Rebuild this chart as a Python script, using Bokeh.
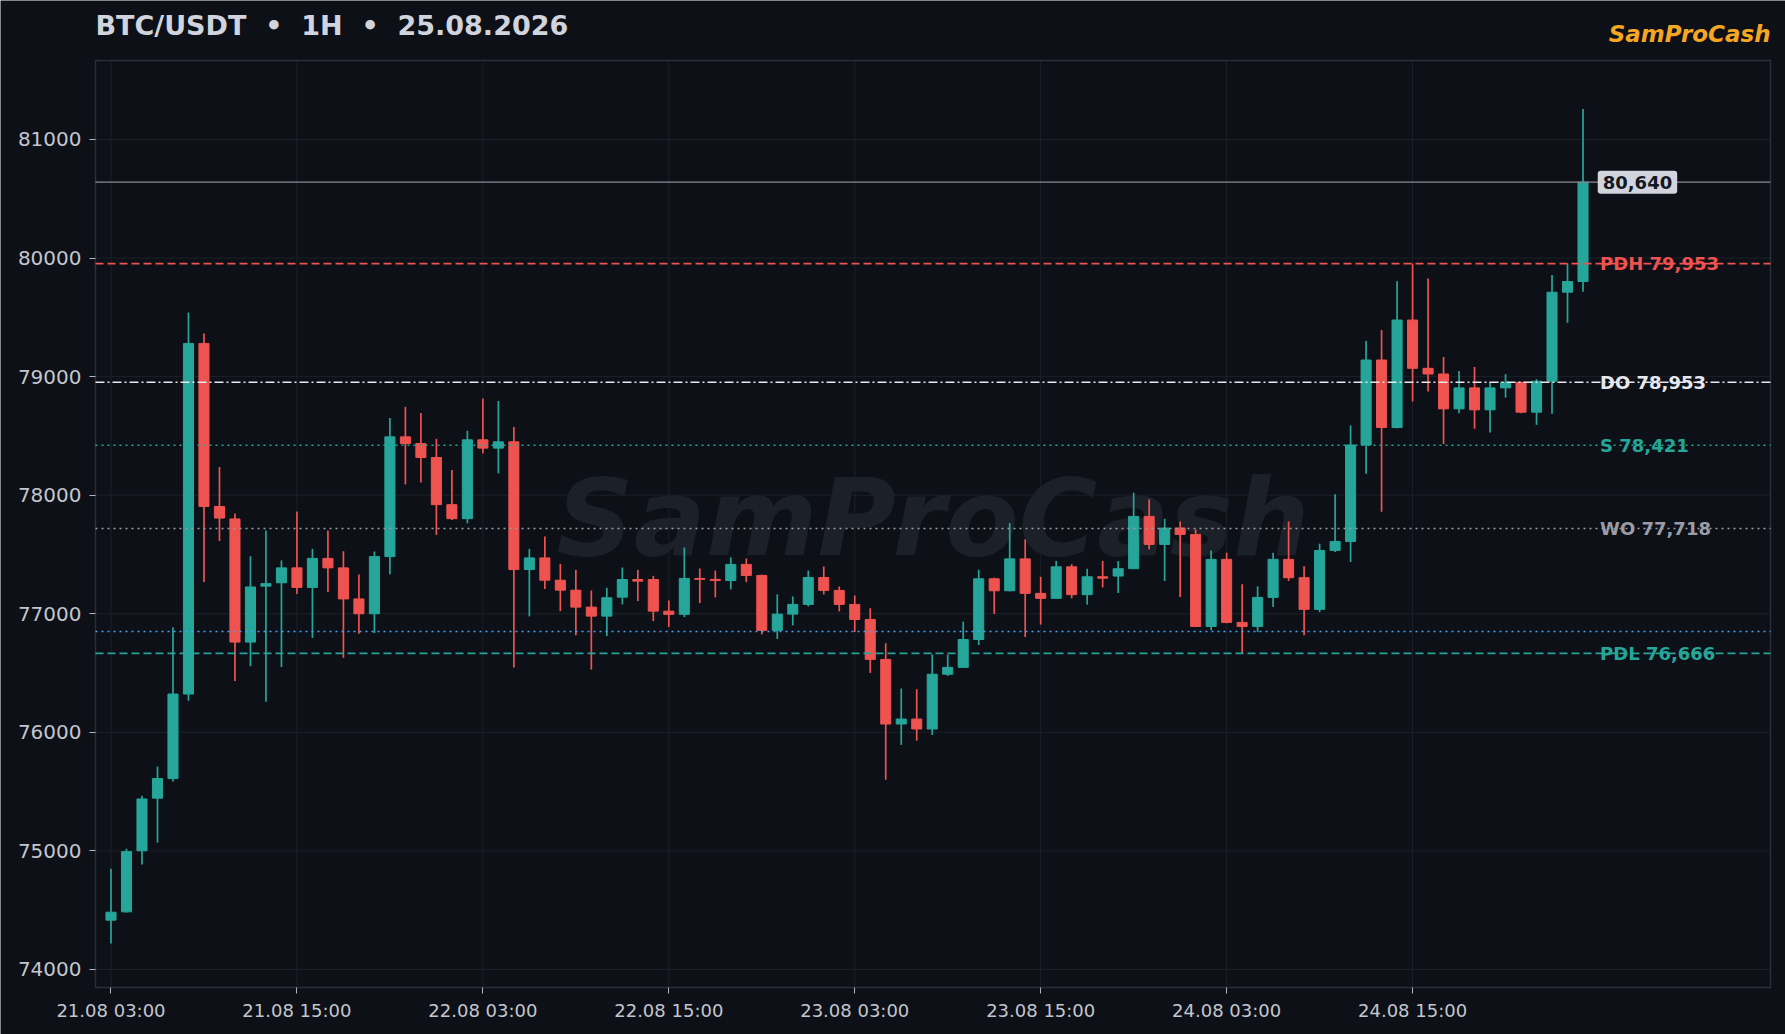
from bokeh.plotting import figure
from bokeh.models import ColumnDataSource, Label, FixedTicker, Range1d
from bokeh.embed import file_html
from bokeh.resources import INLINE

# hourly candles from 21.08 03:00 to 25.08 02:00
opens = [74416, 74486, 75001, 75445, 75610, 76323, 79280, 77905, 77800, 76761,
         77233, 77261, 77387, 77222, 77467, 77387, 77125, 77000, 77482, 78492,
         78436, 78318, 77920, 77802, 78467, 78397, 78450, 77373, 77471, 77283,
         77199, 77056, 76980, 77140, 77289, 77289, 77022, 76995, 77298, 77290,
         77280, 77416, 77323, 76860, 76997, 77079, 77306, 77197, 77079, 76952,
         76615, 76070, 76112, 76028, 76490, 76548, 76783, 77295, 77194, 77463,
         77172, 77130, 77396, 77161, 77312, 77318, 77380, 77821, 77585, 77723,
         77669, 76893, 77459, 76927, 76893, 77138, 77459, 77304, 77037, 77534,
         77610, 78423, 79140, 78571, 79477, 79070, 79022, 78728, 78905, 78720,
         78905, 78952, 78700, 78961, 79712, 79802]
highs = [74850, 75018, 75466, 75711, 76887, 79541, 79364, 78237, 77845, 77485,
         77702, 77450, 77863, 77548, 77702, 77527, 77331, 77525, 78652, 78745,
         78694, 78475, 78212, 78543, 78815, 78795, 78576, 77547, 77651, 77421,
         77370, 77196, 77219, 77390, 77370, 77320, 77112, 77559, 77382, 77365,
         77475, 77466, 77330, 77163, 77146, 77365, 77399, 77230, 77154, 77046,
         76752, 76369, 76364, 76657, 76655, 76934, 77371, 77305, 77765, 77628,
         77312, 77446, 77418, 77379, 77446, 77444, 78021, 77965, 77801, 77779,
         77712, 77534, 77515, 77248, 77231, 77515, 77779, 77400, 77591, 78007,
         78589, 79300, 79393, 79805, 79954, 79828, 79166, 79048, 79081, 78952,
         79020, 78955, 78978, 79856, 79954, 81258]
lows = [74220, 74480, 74885, 75071, 75585, 76267, 77268, 77614, 76432, 76558,
        76257, 76551, 77167, 76796, 77184, 76628, 76832, 76837, 77334, 78091,
        78108, 77665, 77791, 77763, 78352, 78184, 76546, 76978, 77208, 77022,
        76818, 76529, 76812, 77079, 77107, 76938, 76888, 76972, 77090, 77138,
        77205, 77267, 76826, 76787, 76902, 77062, 77163, 77020, 76846, 76501,
        75600, 75894, 75930, 75978, 76476, 76543, 76736, 76999, 77189, 76803,
        76909, 77125, 77130, 77077, 77222, 77175, 77380, 77543, 77276, 77141,
        76888, 76860, 76920, 76669, 76846, 77057, 77276, 76818, 77014, 77520,
        77436, 78180, 77860, 78565, 78790, 78874, 78431, 78691, 78560, 78529,
        78823, 78690, 78593, 78686, 79454, 79715]
closes = [74483, 74994, 75438, 75610, 76323, 79280, 77905, 77807, 76761, 77226,
          77254, 77387, 77222, 77467, 77387, 77125, 77000, 77482, 78492, 78436,
          78318, 77920, 77802, 78467, 78397, 78450, 77373, 77471, 77283, 77199,
          77056, 76980, 77135, 77289, 77275, 77022, 76995, 77298, 77290, 77280,
          77416, 77323, 76860, 76997, 77079, 77306, 77197, 77079, 76952, 76615,
          76070, 76112, 76028, 76490, 76548, 76783, 77295, 77194, 77463, 77172,
          77130, 77396, 77161, 77312, 77300, 77380, 77821, 77585, 77723, 77669,
          76893, 77459, 76927, 76893, 77138, 77459, 77304, 77037, 77534, 77610,
          78423, 79140, 78571, 79477, 79070, 79022, 78728, 78905, 78720, 78905,
          78952, 78700, 78961, 79712, 79802, 80640]

x_tick_pos = [0, 12, 24, 36, 48, 60, 72, 84]
x_tick_labels = ["21.08 03:00", "21.08 15:00", "22.08 03:00", "22.08 15:00",
                 "23.08 03:00", "23.08 15:00", "24.08 03:00", "24.08 15:00"]
y_ticks = [74000, 75000, 76000, 77000, 78000, 79000, 80000, 81000]

last_price = 80640
last_label = "80,640"
level_values = [79953, 78953, 78421, 77718, 76850, 76666]
level_labels = ["PDH 79,953", "DO 78,953", "S 78,421", "WO 77,718", "", "PDL 76,666"]

# svg collapses runs of spaces, so the double gaps use a no-break space
title_text = "BTC/USDT \u00a0•\u00a0 1H \u00a0•\u00a0 25.08.2026"
brand = "SamProCash"

# styling
W, H = 1785, 1034
BOX = dict(left=95, right=1770, top=60, bottom=987)   # chart box in pixels
X0, X1 = -1, 107.1          # visible candle range inside the box
Y0, Y1 = 73848, 81666       # visible price range inside the box
BG = "#0d1017"
GRID = "#1c2029"
FRAME = "#2a2e39"
UP = "#26a69a"
DOWN = "#ef5350"
TXT = "#c3c6ce"
FONT = "DejaVu Sans"
level_styles = [
    dict(color="#ef5350", dash="8 4", width=1.8),
    dict(color="#e6e8ee", dash="9 3 2 3", width=1.6),
    dict(color="#26a69a", dash="2 4", width=1.5),
    dict(color="#9a9da6", dash="2 4", width=1.5),
    dict(color="#42a5f5", dash="2 4", width=1.5),
    dict(color="#26a69a", dash="8 4", width=1.8),
]

# the frame covers the whole canvas, the chart box sits inside it
xpp = (X1 - X0) / (BOX['right'] - BOX['left'])
ypp = (Y1 - Y0) / (BOX['bottom'] - BOX['top'])
x_range = Range1d(X0 - BOX['left'] * xpp, X1 + (W - BOX['right']) * xpp)
y_range = Range1d(Y0 - (H - BOX['bottom']) * ypp, Y1 + BOX['top'] * ypp)

idx = list(range(len(opens)))
up = [i for i in idx if closes[i] >= opens[i]]
dn = [i for i in idx if closes[i] < opens[i]]


def make_source(ids):
    return ColumnDataSource(data={
        'x': ids,
        'high': [highs[i] for i in ids],
        'low': [lows[i] for i in ids],
        'top': [max(opens[i], closes[i]) for i in ids],
        'bottom': [min(opens[i], closes[i]) for i in ids],
    })


p = figure(
    width=W, height=H,
    output_backend="svg", toolbar_location=None, title=None,
    x_range=x_range, y_range=y_range, min_border=0,
)
p.background_fill_color = BG
p.border_fill_color = BG
p.outline_line_color = None
p.grid.visible = False

# grid lines, limited to the chart box
p.segment(x0=[X0] * len(y_ticks), y0=y_ticks, x1=[X1] * len(y_ticks), y1=y_ticks,
          line_color=GRID, line_width=1)
p.segment(x0=x_tick_pos, y0=[Y0] * len(x_tick_pos), x1=x_tick_pos, y1=[Y1] * len(x_tick_pos),
          line_color=GRID, line_width=1)

# watermark
p.add_layout(Label(x=(BOX['left'] + BOX['right']) / 2, y=H - (BOX['top'] + BOX['bottom']) / 2 + 6,
                   x_units="screen", y_units="screen", text=brand,
                   text_align="center", text_baseline="middle", text_font=FONT,
                   text_font_size="107px", text_font_style="bold italic",
                   text_color="#1c2029", level="underlay"))

for ids, col in [(up, UP), (dn, DOWN)]:
    src = make_source(ids)
    p.segment('x', 'high', 'x', 'low', source=src, line_color=col, line_width=1.7)
    p.vbar('x', 0.65, 'top', 'bottom', source=src, fill_color=col, line_color=col, line_width=1)

# chart box outline
p.quad(left=[X0], right=[X1], bottom=[Y0], top=[Y1], fill_color=None,
       line_color=FRAME, line_width=1.5)

# axes pinned to the chart box
p.xaxis.fixed_location = Y0
p.yaxis.fixed_location = X0
p.xaxis.bounds = (X0, X1)
p.yaxis.bounds = (Y0, Y1)
p.xaxis.ticker = FixedTicker(ticks=x_tick_pos)
p.xaxis.major_label_overrides = dict(zip(x_tick_pos, x_tick_labels))
p.yaxis.ticker = FixedTicker(ticks=y_ticks)
for ax in [p.xaxis[0], p.yaxis[0]]:
    ax.axis_line_color = None
    ax.major_tick_line_color = "#b2b5be"
    ax.major_tick_out = 6
    ax.major_tick_in = 0
    ax.minor_tick_line_color = None
    ax.major_label_text_color = TXT
    ax.major_label_text_font = FONT
    ax.major_label_standoff = 8
p.xaxis.major_label_standoff = 6
p.xaxis.major_label_text_font_size = "18px"
p.yaxis.major_label_text_font_size = "20px"

# levels
p.segment(x0=[X0], y0=[last_price], x1=[X1], y1=[last_price], line_color="#8a8d96", line_width=1.2)
for v, st in zip(level_values, level_styles):
    p.segment(x0=[X0], y0=[v], x1=[X1], y1=[v], line_color=st['color'],
              line_dash=st['dash'], line_width=st['width'])
for v, txt, st in zip(level_values, level_labels, level_styles):
    if txt:
        p.add_layout(Label(x=96.1, y=v, text=txt, text_baseline="middle", text_font=FONT,
                           text_font_size="18px", text_font_style="bold",
                           text_color=st['color']))
p.add_layout(Label(x=95.95, y=last_price, text=last_label, text_baseline="middle",
                   text_font=FONT, text_font_size="18px", text_font_style="bold",
                   text_color="#131722", background_fill_color="#d1d4dc",
                   padding=5, border_radius=3))

# header texts
p.add_layout(Label(x=95, y=H - 25, x_units="screen", y_units="screen", text=title_text,
                   text_font=FONT, text_font_size="27px", text_font_style="bold",
                   text_color="#d1d4dc", text_baseline="middle"))
p.add_layout(Label(x=BOX['right'], y=H - 33, x_units="screen", y_units="screen", text=brand,
                   text_align="right", text_font=FONT, text_font_size="23px",
                   text_font_style="bold italic", text_color="#f5a623",
                   text_baseline="middle"))

open("out.html", "w").write(file_html(p, INLINE))
